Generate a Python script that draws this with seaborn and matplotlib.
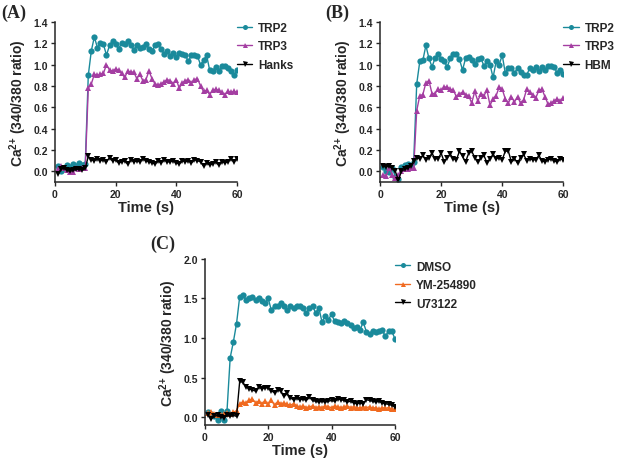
import numpy as np
import pandas as pd
import matplotlib
matplotlib.use('Agg')
import matplotlib.pyplot as plt
import seaborn as sns

# time points (s)
time = list(range(1, 61))

# panel A
a_trp2 = [0.05, 0.00, 0.03, 0.06, 0.04, 0.07, 0.05, 0.08, 0.06, 0.07,
          0.90, 1.13, 1.26, 1.16, 1.20, 1.19, 1.09, 1.18, 1.22, 1.19,
          1.15, 1.20, 1.19, 1.22, 1.18, 1.14, 1.18, 1.16, 1.17, 1.19,
          1.15, 1.13, 1.18, 1.19, 1.15, 1.10, 1.13, 1.08, 1.11, 1.07,
          1.11, 1.10, 1.09, 1.03, 1.09, 1.09, 1.08, 1.00, 1.04, 1.09,
          0.95, 0.94, 0.98, 0.94, 0.99, 0.99, 0.97, 0.94, 0.90, 0.95]
a_trp3 = [0.02, 0.05, 0.03, 0.01, -0.01, -0.01, 0.03, 0.02, 0.03, 0.03,
          0.78, 0.82, 0.91, 0.90, 0.91, 0.92, 1.00, 0.95, 0.94, 0.96,
          0.95, 0.92, 0.88, 0.94, 0.93, 0.93, 0.87, 0.91, 0.85, 0.86,
          0.94, 0.87, 0.82, 0.81, 0.82, 0.84, 0.86, 0.85, 0.82, 0.86,
          0.78, 0.83, 0.85, 0.86, 0.83, 0.86, 0.87, 0.80, 0.75, 0.76,
          0.72, 0.76, 0.77, 0.76, 0.74, 0.72, 0.75, 0.74, 0.75, 0.74]
a_hanks = [-0.02, 0.02, 0.03, 0.01, 0.00, 0.01, 0.02, 0.02, 0.01, 0.03,
           0.14, 0.11, 0.10, 0.12, 0.10, 0.11, 0.09, 0.13, 0.10, 0.11,
           0.08, 0.09, 0.10, 0.07, 0.11, 0.09, 0.10, 0.09, 0.12, 0.10,
           0.09, 0.08, 0.07, 0.10, 0.08, 0.11, 0.09, 0.09, 0.10, 0.08,
           0.07, 0.10, 0.09, 0.10, 0.08, 0.11, 0.10, 0.09, 0.05, 0.08,
           0.06, 0.07, 0.09, 0.06, 0.09, 0.08, 0.09, 0.12, 0.09, 0.12]

# panel B
b_trp2 = [0.04, 0.00, -0.01, 0.03, -0.05, -0.07, 0.04, 0.06, 0.07, 0.05,
          0.09, 0.82, 1.03, 1.04, 1.18, 1.06, 0.98, 1.06, 1.10, 1.05,
          1.03, 0.98, 1.06, 1.10, 1.10, 1.05, 0.95, 1.06, 1.07, 1.04,
          1.01, 1.05, 1.06, 0.99, 1.03, 1.00, 0.88, 1.03, 1.00, 1.09,
          0.92, 0.97, 0.97, 0.92, 0.97, 0.93, 0.90, 0.90, 0.97, 0.95,
          0.98, 0.94, 0.98, 0.95, 0.99, 0.99, 0.98, 0.92, 0.95, 0.91]
b_trp3 = [-0.03, -0.04, 0.03, -0.03, -0.06, -0.03, 0.00, 0.02, 0.02, 0.03,
          0.03, 0.57, 0.71, 0.72, 0.83, 0.85, 0.73, 0.73, 0.77, 0.76,
          0.79, 0.79, 0.77, 0.76, 0.70, 0.73, 0.74, 0.72, 0.71, 0.64,
          0.75, 0.66, 0.73, 0.71, 0.76, 0.62, 0.68, 0.71, 0.79, 0.77,
          0.68, 0.64, 0.70, 0.65, 0.70, 0.64, 0.67, 0.77, 0.74, 0.72,
          0.69, 0.76, 0.77, 0.70, 0.63, 0.64, 0.66, 0.68, 0.66, 0.69]
b_hbm = [0.05, 0.04, 0.05, 0.03, 0.00, -0.08, 0.00, 0.02, 0.03, 0.05,
         0.10, 0.13, 0.12, 0.15, 0.11, 0.13, 0.17, 0.12, 0.12, 0.17,
         0.09, 0.13, 0.16, 0.12, 0.11, 0.19, 0.14, 0.09, 0.17, 0.19,
         0.13, 0.09, 0.13, 0.15, 0.08, 0.12, 0.16, 0.12, 0.13, 0.11,
         0.19, 0.19, 0.09, 0.12, 0.08, 0.13, 0.16, 0.10, 0.12, 0.11,
         0.11, 0.15, 0.10, 0.09, 0.11, 0.12, 0.10, 0.09, 0.12, 0.11]

# panel C
c_dmso = [0.06, 0.04, 0.01, -0.04, 0.08, -0.04, 0.08, 0.75, 0.95, 1.18,
          1.52, 1.54, 1.48, 1.51, 1.52, 1.48, 1.50, 1.47, 1.44, 1.50,
          1.35, 1.41, 1.40, 1.44, 1.40, 1.35, 1.40, 1.38, 1.40, 1.41,
          1.38, 1.31, 1.38, 1.40, 1.32, 1.38, 1.20, 1.28, 1.23, 1.30,
          1.21, 1.20, 1.19, 1.22, 1.19, 1.17, 1.13, 1.14, 1.10, 1.20,
          1.08, 1.05, 1.09, 1.07, 1.09, 1.10, 1.02, 1.09, 1.09, 0.99]
c_ym = [0.05, 0.06, 0.04, 0.03, 0.02, 0.04, 0.05, 0.04, 0.06, 0.08,
        0.17, 0.19, 0.18, 0.21, 0.23, 0.18, 0.20, 0.17, 0.20, 0.16,
        0.21, 0.15, 0.19, 0.17, 0.18, 0.16, 0.15, 0.17, 0.14, 0.13,
        0.14, 0.12, 0.13, 0.14, 0.12, 0.13, 0.12, 0.14, 0.13, 0.12,
        0.14, 0.13, 0.12, 0.13, 0.14, 0.12, 0.13, 0.12, 0.11, 0.13,
        0.12, 0.13, 0.11, 0.12, 0.10, 0.12, 0.11, 0.12, 0.10, 0.10]
c_u73 = [0.03, -0.02, 0.01, 0.02, 0.00, -0.01, 0.02, 0.01, 0.02, 0.01,
         0.45, 0.44, 0.38, 0.36, 0.34, 0.33, 0.38, 0.36, 0.37, 0.37,
         0.33, 0.31, 0.34, 0.33, 0.26, 0.30, 0.24, 0.22, 0.24, 0.22,
         0.23, 0.21, 0.25, 0.21, 0.20, 0.19, 0.20, 0.19, 0.20, 0.21,
         0.20, 0.23, 0.22, 0.21, 0.19, 0.20, 0.18, 0.17, 0.18, 0.17,
         0.22, 0.21, 0.20, 0.19, 0.20, 0.18, 0.17, 0.16, 0.15, 0.13]

teal = '#1a8a9b'
purple = '#a43ea2'
orange = '#f06a20'

sns.set_style('ticks')
plt.rcParams['font.family'] = ['Liberation Sans', 'DejaVu Sans']
plt.rcParams['font.weight'] = 'bold'
plt.rcParams['mathtext.fontset'] = 'custom'
plt.rcParams['mathtext.bf'] = 'Liberation Sans:bold'
plt.rcParams['mathtext.rm'] = 'Liberation Sans:bold'

fig = plt.figure(figsize=(6.17, 4.6), dpi=100)
ax_a = fig.add_axes([0.089, 0.602, 0.295, 0.348])
ax_b = fig.add_axes([0.616, 0.602, 0.297, 0.348])
ax_c = fig.add_axes([0.332, 0.074, 0.308, 0.361])


def draw(ax, series, ylim, yticks, leg_y):
    for name, vals, color, marker in series:
        df = pd.DataFrame({'t': time, 'v': vals})
        sns.lineplot(data=df, x='t', y='v', ax=ax, color=color, marker=marker,
                     markersize=4.5, markeredgewidth=0, linewidth=1.0, label=name)
    ax.set_xlim(0, 60)
    ax.set_ylim(*ylim)
    ax.set_xticks([0, 20, 40, 60])
    ax.set_yticks(yticks)
    ax.yaxis.set_major_formatter(matplotlib.ticker.FormatStrFormatter('%.1f'))
    ax.tick_params(labelsize=7.5, width=1, length=3, pad=2)
    for lab in ax.get_xticklabels() + ax.get_yticklabels():
        lab.set_fontweight('bold')
    ax.set_xlabel('Time (s)', fontsize=10.5, fontweight='bold', labelpad=1)
    ax.set_ylabel(r'Ca$^{\mathbf{2{+}}}$ (340/380 ratio)', fontsize=10,
                  fontweight='bold', labelpad=3)
    sns.despine(ax=ax)
    for s in ['left', 'bottom']:
        ax.spines[s].set_linewidth(1.1)
    ax.legend(loc='upper left', bbox_to_anchor=(1.0, leg_y), frameon=False,
              borderaxespad=0, borderpad=0, handlelength=1.3, handletextpad=0.5,
              labelspacing=0.55, prop={'weight': 'bold', 'size': 8.5}, markerscale=0.8)


draw(ax_a, [('TRP2', a_trp2, teal, 'o'), ('TRP3', a_trp3, purple, '^'),
            ('Hanks', a_hanks, 'black', 'v')],
     (-0.1, 1.4), np.arange(0, 1.41, 0.2), 1.0)
draw(ax_b, [('TRP2', b_trp2, teal, 'o'), ('TRP3', b_trp3, purple, '^'),
            ('HBM', b_hbm, 'black', 'v')],
     (-0.1, 1.4), np.arange(0, 1.41, 0.2), 1.0)
draw(ax_c, [('DMSO', c_dmso, teal, 'o'), ('YM-254890', c_ym, orange, '^'),
            ('U73122', c_u73, 'black', 'v')],
     (-0.1, 2.0), [0.0, 0.5, 1.0, 1.5, 2.0], 0.99)

serif = ['Liberation Serif', 'DejaVu Serif']
fig.text(0.002, 0.972, '(A)', fontsize=13, fontweight='bold', family=serif, va='center')
fig.text(0.527, 0.972, '(B)', fontsize=13, fontweight='bold', family=serif, va='center')
fig.text(0.243, 0.468, '(C)', fontsize=13, fontweight='bold', family=serif, va='center')

fig.savefig('out.png', dpi=100)
